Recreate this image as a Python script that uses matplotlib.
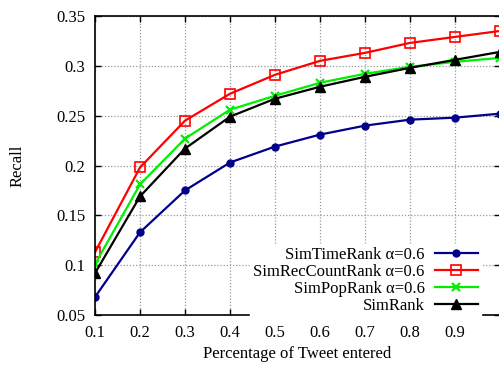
import matplotlib
matplotlib.use("Agg")
import matplotlib.pyplot as plt

# Data
pct = [0.1, 0.2, 0.3, 0.4, 0.5, 0.6, 0.7, 0.8, 0.9, 1.0]
sim_time = [0.068, 0.133, 0.175, 0.203, 0.219, 0.231, 0.240, 0.246, 0.248, 0.252]
sim_rec = [0.113, 0.198, 0.245, 0.272, 0.291, 0.305, 0.313, 0.323, 0.329, 0.335]
sim_pop = [0.101, 0.181, 0.227, 0.256, 0.270, 0.283, 0.292, 0.299, 0.304, 0.308]
sim_rank = [0.092, 0.169, 0.217, 0.249, 0.267, 0.279, 0.289, 0.298, 0.306, 0.314]

x_ticks = [0.1, 0.2, 0.3, 0.4, 0.5, 0.6, 0.7, 0.8, 0.9]
x_labels = ["0.1", "0.2", "0.3", "0.4", "0.5", "0.6", "0.7", "0.8", "0.9"]
y_ticks = [0.05, 0.1, 0.15, 0.2, 0.25, 0.3, 0.35]
y_labels = ["0.05", "0.1", "0.15", "0.2", "0.25", "0.3", "0.35"]

plt.rcParams["font.family"] = ["Liberation Serif", "DejaVu Serif"]

fig = plt.figure(figsize=(4.99, 3.66), dpi=100)
ax = fig.add_axes([0.1904, 0.1393, 0.8116, 0.8170])

ax.plot(pct, sim_time, color="#00008b", linewidth=1.6, marker="o",
        markersize=5, label="SimTimeRank α=0.6")
ax.plot(pct, sim_rec, color="#ff0000", linewidth=1.6, marker="s",
        markersize=7, markerfacecolor="none", markeredgewidth=1.2,
        label="SimRecCountRank α=0.6")
ax.plot(pct, sim_pop, color="#00ee00", linewidth=1.6, marker="x",
        markersize=6, markeredgewidth=1.6, label="SimPopRank α=0.6")
ax.plot(pct, sim_rank, color="#000000", linewidth=1.6, marker="^",
        markersize=7, label="SimRank")

ax.set_xlim(0.1, 1.0)
ax.set_ylim(0.05, 0.35)
ax.set_xticks(x_ticks)
ax.set_xticklabels(x_labels)
ax.set_yticks(y_ticks)
ax.set_yticklabels(y_labels)

ax.grid(True, color="#999999", linestyle=(0, (1, 1.5)), linewidth=0.9)
ax.set_axisbelow(True)
ax.tick_params(direction="in", top=True, right=True, labelsize=12,
               length=4, width=1, pad=7)
for s in ax.spines.values():
    s.set_linewidth(1.2)

ax.set_xlabel("Percentage of Tweet entered", fontsize=12, labelpad=4)
ax.set_ylabel("Recall", fontsize=12, labelpad=22)

leg = ax.legend(loc="lower right", fontsize=12, frameon=True, fancybox=False,
                edgecolor="white", framealpha=1.0, markerfirst=False,
                handlelength=2.6, borderpad=0.2, labelspacing=0.05,
                borderaxespad=0.1, handletextpad=0.6,
                bbox_to_anchor=(0.958, -0.012))

fig.savefig("out.png", dpi=100)
